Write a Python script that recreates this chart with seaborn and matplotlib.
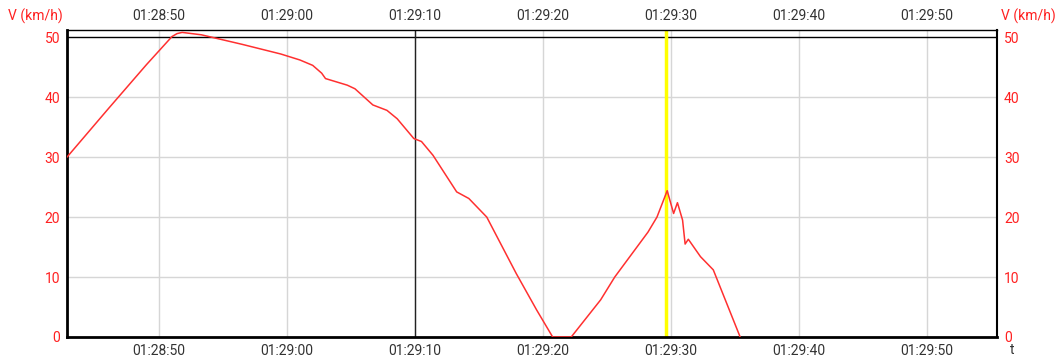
import matplotlib
matplotlib.use("Agg")
import matplotlib.pyplot as plt
import matplotlib.ticker as mticker
import seaborn as sns
import pandas as pd

# time in seconds after 01:28:00
t_sec = [42.8, 46.0, 49.0, 51.0, 51.4, 51.8, 53.3, 56.5, 59.5, 61.0, 62.0, 62.7,
         63.0, 64.7, 65.3, 66.7, 67.8, 68.6, 69.9, 70.5, 71.4, 73.25, 74.2, 75.6,
         77.9, 79.5, 80.75, 82.2, 84.5, 85.6, 88.2, 88.9, 89.7, 90.2, 90.5, 90.9,
         91.1, 91.35, 92.3, 93.3, 94.35, 95.4]
speed = [30.0, 38.0, 45.4, 50.1, 50.6, 50.8, 50.4, 48.8, 47.2, 46.2, 45.3, 44.0,
         43.1, 42.0, 41.4, 38.7, 37.8, 36.4, 33.1, 32.6, 30.3, 24.2, 23.1, 20.0,
         10.6, 4.5, 0.0, 0.0, 6.2, 10.0, 17.5, 20.0, 24.4, 20.6, 22.4, 19.5,
         15.5, 16.3, 13.4, 11.2, 5.6, 0.0]
x_ticks = [50, 60, 70, 80, 90, 100, 110]
y_ticks = [0, 10, 20, 30, 40, 50]
limit_speed = 50
marker_black = 70.0
marker_yellow = 89.6
x_range = (42.8, 115.47)
y_range = (0, 51.2)

sns.set_style("white")
plt.rcParams['font.family'] = ['Roboto', 'DejaVu Sans']

df = pd.DataFrame({"t": t_sec, "v": speed})

fig = plt.figure(figsize=(10.6, 3.6), dpi=100)
ax = fig.add_axes([67/1060, 1-337/360, (997-67)/1060, (337-30)/360])

# grid
for xt in x_ticks:
    ax.axvline(xt, color="#d6d6d6", lw=1, zorder=0)
for yt in y_ticks[1:-1]:
    ax.axhline(yt, color="#d6d6d6", lw=1, zorder=0)

ax.axhline(limit_speed, color="black", lw=1, zorder=1)
ax.axvline(marker_black, color="#222222", lw=1, zorder=1)
ax.axvline(marker_yellow, color="#ffff00", lw=2.5, zorder=2)

sns.lineplot(data=df, x="t", y="v", ax=ax, color="#ff3030", lw=1.1, zorder=3)

ax.set_xlim(*x_range)
ax.set_ylim(*y_range)
ax.set_xlabel("")
ax.set_ylabel("")

def fmt(x, pos):
    total = 88 * 60 + int(round(x))
    h = total // 3600
    m = (total % 3600) // 60
    s = total % 60
    return f"{h:02d}:{m:02d}:{s:02d}"

ax.set_xticks(x_ticks)
ax.xaxis.set_major_formatter(mticker.FuncFormatter(fmt))
ax.set_yticks(y_ticks)
ax.tick_params(axis="x", which="both", length=0, pad=5, labelsize=10,
               labelcolor="#333333", top=True, labeltop=True, bottom=True, labelbottom=True)
ax.tick_params(axis="y", which="both", length=0, pad=5, labelsize=10,
               labelcolor="#ff2020", left=True, labelleft=True, right=True, labelright=True)

for side, w in [("left", 2), ("bottom", 2), ("right", 1.5), ("top", 1)]:
    ax.spines[side].set_visible(True)
    ax.spines[side].set_color("black")
    ax.spines[side].set_linewidth(w)

fig.text(35/1060, 1-16/360, "V (km/h)", color="#ff2020", fontsize=10, ha="center", va="center")
fig.text(1028/1060, 1-16/360, "V (km/h)", color="#ff2020", fontsize=10, ha="center", va="center")
fig.text(1012/1060, 1-350/360, "t", color="#333333", fontsize=10, ha="center", va="center")

fig.savefig("out.png", dpi=100)
